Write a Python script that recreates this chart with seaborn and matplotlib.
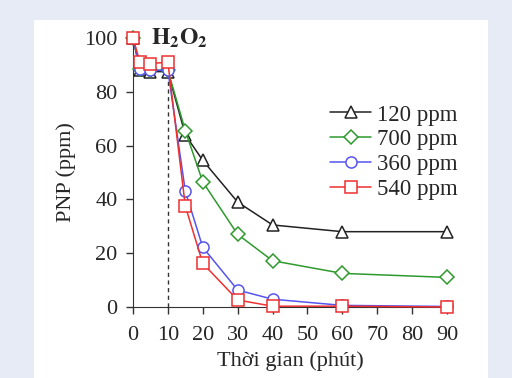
import pandas as pd
import seaborn as sns
import matplotlib.pyplot as plt
from matplotlib.patches import Rectangle

# data
time_min = [0, 2, 5, 10, 15, 20, 30, 40, 60, 90]
pnp_120 = [100, 88, 87.5, 87.5, 64, 54.5, 39, 30.5, 28, 28]
pnp_700 = [100, 88.5, 88, 88, 65.5, 46.5, 27, 17.2, 12.5, 11]
pnp_360 = [100, 88.5, 88, 88, 43, 22.2, 6.3, 2.9, 0.6, 0.2]
pnp_540 = [100, 91, 90.5, 91, 37.5, 16.2, 2.6, 0.3, 0.3, 0]

series_names = ["120 ppm", "700 ppm", "360 ppm", "540 ppm"]
series_values = [pnp_120, pnp_700, pnp_360, pnp_540]
series_colors = ["#222222", "#2e9a2e", "#5555ee", "#ee3030"]
series_markers = ["^", "D", "o", "s"]
marker_sizes = [8, 7, 8, 9]

rows = []
for name, vals in zip(series_names, series_values):
    for t, v in zip(time_min, vals):
        rows.append({"time": t, "pnp": v, "series": name})
df = pd.DataFrame(rows)

sns.set_style("ticks")
plt.rcParams["font.family"] = ["Liberation Serif", "DejaVu Serif"]
plt.rcParams["mathtext.fontset"] = "stix"

fig = plt.figure(figsize=(5.12, 3.78), dpi=100)
fig.patch.set_facecolor("#e6ebf6")
fig.patches.append(Rectangle((34 / 512, 0), (488 - 34) / 512, 1 - 20 / 378,
                             transform=fig.transFigure, facecolor="white",
                             edgecolor="none", zorder=-5))
ax = fig.add_axes([133 / 512, 1 - 307 / 378, (447 - 133) / 512, (307 - 38) / 378])
ax.set_facecolor("none")

for name, col, mk, ms in zip(series_names, series_colors, series_markers, marker_sizes):
    sub = df[df["series"] == name]
    sns.lineplot(data=sub, x="time", y="pnp", ax=ax, color=col, marker=mk,
                 markersize=ms, markerfacecolor="white", markeredgecolor=col,
                 markeredgewidth=1.1, linewidth=1.1, label=name, clip_on=False,
                 zorder=3)

ax.axvline(10, ymin=0, ymax=0.88, color="#333333", linestyle=(0, (3, 2.5)),
           linewidth=1.0, zorder=1)
ax.text(5.3, 100, r"$\mathbf{H_2O_2}$", fontsize=17, ha="left", va="center")

ax.set_xlim(0, 90)
ax.set_ylim(0, 100)
ax.set_xticks(range(0, 91, 10))
ax.set_yticks(range(0, 101, 20))
ax.tick_params(labelsize=16, length=5, width=1, color="#333333")
ax.tick_params(axis="x", pad=9)
ax.tick_params(axis="y", pad=6)
ax.set_xlabel("Thời gian (phút)", fontsize=16, labelpad=4)
ax.set_ylabel("PNP (ppm)", fontsize=16, labelpad=6)
sns.despine(ax=ax)
for s in ["left", "bottom"]:
    ax.spines[s].set_color("#333333")

ax.legend(loc="upper right", bbox_to_anchor=(1.063, 0.787), frameon=False,
          fontsize=16.5, handlelength=1.8, labelspacing=0.16, handletextpad=0.25,
          borderaxespad=0.0)

fig.savefig("out.png", dpi=100, facecolor=fig.get_facecolor())
